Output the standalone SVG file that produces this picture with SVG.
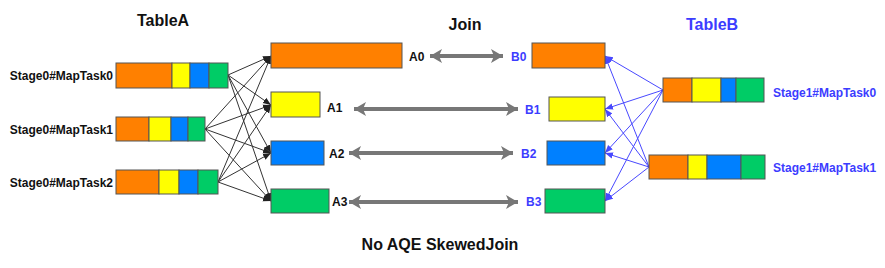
<svg xmlns="http://www.w3.org/2000/svg" width="885" height="268" viewBox="0 0 885 268">
<defs>
<style>
text{font-family:"Liberation Sans",Arial,sans-serif;font-weight:bold;}
.lbl{font-size:12px;fill:#111;}
.blbl{font-size:12px;fill:#3c3cff;}
.title{font-size:16px;fill:#111;text-anchor:middle;}
.o{fill:#ff8000;stroke:#555;stroke-width:1;}
.y{fill:#ffff00;stroke:#555;stroke-width:1;}
.b{fill:#0080ff;stroke:#555;stroke-width:1;}
.g{fill:#00cc66;stroke:#555;stroke-width:1;}
.k{stroke:#333;stroke-width:1;fill:none;marker-end:url(#ak);}
.u{stroke:#4848ff;stroke-width:1;fill:none;marker-end:url(#au);}
.j{stroke:#777;stroke-width:4;fill:none;marker-start:url(#ajs);marker-end:url(#aje);}
</style>
<marker id="ak" viewBox="0 0 10 10" refX="10" refY="5" markerWidth="8" markerHeight="8" markerUnits="userSpaceOnUse" orient="auto"><path d="M0,1 L10,5 L0,9 z" fill="#222"/></marker>
<marker id="au" viewBox="0 0 10 10" refX="10" refY="5" markerWidth="8" markerHeight="8" markerUnits="userSpaceOnUse" orient="auto"><path d="M0,1 L10,5 L0,9 z" fill="#4848ff"/></marker>
<marker id="aje" viewBox="0 0 12 14" refX="12" refY="7" markerWidth="12" markerHeight="14" markerUnits="userSpaceOnUse" orient="auto"><path d="M0,0 L12,7 L0,14 L3,7 z" fill="#777"/></marker>
<marker id="ajs" viewBox="0 0 12 14" refX="0" refY="7" markerWidth="12" markerHeight="14" markerUnits="userSpaceOnUse" orient="auto"><path d="M12,0 L0,7 L12,14 L9,7 z" fill="#777"/></marker>
</defs>
<rect width="885" height="268" fill="#fff"/>
<text class="title" x="163" y="26">TableA</text>
<text class="title" x="465" y="30">Join</text>
<text class="title" x="712" y="30" style="fill:#3c3cff">TableB</text>
<text class="title" x="440" y="250">No AQE SkewedJoin</text>

<g id="connectors">
<path class="k" d="M228,75 L271,56"/><path class="k" d="M228,75 L271,105"/><path class="k" d="M228,75 L271,153"/><path class="k" d="M228,75 L271,201"/>
<path class="k" d="M205,129 L271,56"/><path class="k" d="M205,129 L271,105"/><path class="k" d="M205,129 L271,153"/><path class="k" d="M205,129 L271,201"/>
<path class="k" d="M218,182 L271,56"/><path class="k" d="M218,182 L271,105"/><path class="k" d="M218,182 L271,153"/><path class="k" d="M218,182 L271,201"/>
<path class="u" d="M663,90 L605,56"/><path class="u" d="M663,90 L605,109"/><path class="u" d="M663,90 L605,153"/><path class="u" d="M663,90 L605,201"/>
<path class="u" d="M649,167 L605,56"/><path class="u" d="M649,167 L605,109"/><path class="u" d="M649,167 L605,153"/><path class="u" d="M649,167 L605,201"/>
<path class="j" d="M430,56 L503,56"/>
<path class="j" d="M354,109 L518,109"/>
<path class="j" d="M349,153 L513,153"/>
<path class="j" d="M349,202 L518,202"/>
</g>

<g id="s0m0"><text class="lbl" x="113" y="80" text-anchor="end">Stage0#MapTask0</text>
<rect class="o" x="116" y="63" width="56" height="25"/><rect class="y" x="172" y="63" width="18" height="25"/><rect class="b" x="190" y="63" width="19" height="25"/><rect class="g" x="209" y="63" width="19" height="25"/></g>
<g id="s0m1"><text class="lbl" x="113" y="134" text-anchor="end">Stage0#MapTask1</text>
<rect class="o" x="116" y="117" width="33" height="24"/><rect class="y" x="149" y="117" width="22" height="24"/><rect class="b" x="171" y="117" width="17" height="24"/><rect class="g" x="188" y="117" width="17" height="24"/></g>
<g id="s0m2"><text class="lbl" x="113" y="187" text-anchor="end">Stage0#MapTask2</text>
<rect class="o" x="116" y="170" width="43" height="24"/><rect class="y" x="159" y="170" width="20" height="24"/><rect class="b" x="179" y="170" width="19" height="24"/><rect class="g" x="198" y="170" width="20" height="24"/></g>

<g id="A0"><rect class="o" x="271" y="43" width="131" height="25"/><text class="lbl" x="409" y="61">A0</text></g>
<g id="A1"><rect class="y" x="271" y="92" width="49" height="25"/><text class="lbl" x="327" y="112">A1</text></g>
<g id="A2"><rect class="b" x="271" y="141" width="53" height="24"/><text class="lbl" x="329" y="158">A2</text></g>
<g id="A3"><rect class="g" x="271" y="189" width="58" height="24"/><text class="lbl" x="332" y="206">A3</text></g>

<g id="B0"><rect class="o" x="532" y="43" width="73" height="25"/><text class="blbl" x="511" y="61">B0</text></g>
<g id="B1"><rect class="y" x="549" y="97" width="56" height="24"/><text class="blbl" x="525" y="114">B1</text></g>
<g id="B2"><rect class="b" x="547" y="141" width="58" height="24"/><text class="blbl" x="521" y="158">B2</text></g>
<g id="B3"><rect class="g" x="545" y="189" width="60" height="24"/><text class="blbl" x="526" y="206">B3</text></g>

<g id="s1m0"><rect class="o" x="663" y="78" width="29" height="24"/><rect class="y" x="692" y="78" width="29" height="24"/><rect class="b" x="721" y="78" width="15" height="24"/><rect class="g" x="736" y="78" width="28" height="24"/>
<text class="blbl" x="773" y="97">Stage1#MapTask0</text></g>
<g id="s1m1"><rect class="o" x="649" y="155" width="39" height="24"/><rect class="y" x="688" y="155" width="19" height="24"/><rect class="b" x="707" y="155" width="34" height="24"/><rect class="g" x="741" y="155" width="24" height="24"/>
<text class="blbl" x="773" y="172">Stage1#MapTask1</text></g>
</svg>
